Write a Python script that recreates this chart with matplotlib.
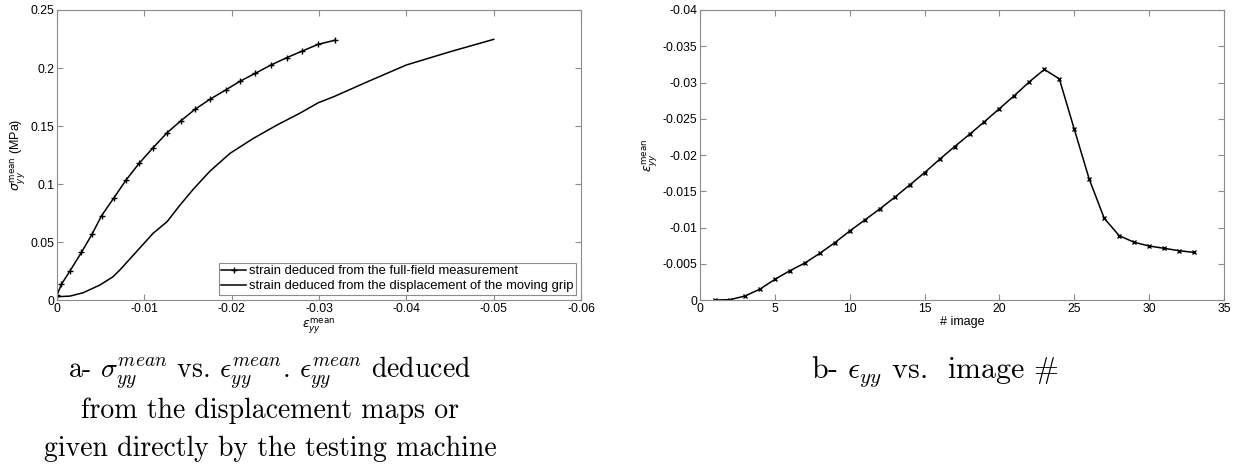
import numpy as np
import matplotlib
matplotlib.use('Agg')
import matplotlib.pyplot as plt

plt.rcParams['font.family'] = ['Liberation Sans', 'DejaVu Sans']
plt.rcParams['mathtext.fontset'] = 'dejavusans'

# ---- data ----
# a- full-field strain (markers)
eps_field = [0.0, -0.0005, -0.0015, -0.0028, -0.0040, -0.0051, -0.0065, -0.0079,
             -0.0094, -0.0110, -0.0126, -0.0142, -0.0158, -0.0175, -0.0193, -0.0210,
             -0.0227, -0.0245, -0.0263, -0.0281, -0.0299, -0.0318]
sig_field = [0.0043, 0.0135, 0.0253, 0.0411, 0.0566, 0.0727, 0.0879, 0.1034,
             0.1178, 0.1313, 0.1442, 0.1546, 0.1644, 0.1730, 0.1810, 0.1888,
             0.1954, 0.2026, 0.2089, 0.2147, 0.2204, 0.2239]
# a- strain from grip displacement (plain line)
eps_grip = [0.0, -0.0015, -0.0030, -0.0049, -0.0064, -0.0072, -0.0091, -0.0110,
            -0.0126, -0.0141, -0.0156, -0.0175, -0.0198, -0.0225, -0.0252, -0.0278,
            -0.0299, -0.0317, -0.0355, -0.0400, -0.0450, -0.0500]
sig_grip = [0.0028, 0.0034, 0.0063, 0.0129, 0.0200, 0.0259, 0.0417, 0.0575,
            0.0675, 0.0820, 0.0955, 0.1110, 0.1264, 0.1394, 0.1509, 0.1610,
            0.1700, 0.1753, 0.1880, 0.2026, 0.2140, 0.2247]

# b- mean strain per image
image_no = list(range(1, 34))
eps_img = [0.0, -0.00005, -0.00055, -0.0015, -0.00285, -0.00404, -0.0051, -0.00644,
           -0.0079, -0.00952, -0.01103, -0.01255, -0.01416, -0.01586, -0.01757,
           -0.0194, -0.02115, -0.02285, -0.0246, -0.0264, -0.0282, -0.0301, -0.0318,
           -0.0305, -0.02355, -0.01665, -0.01127, -0.00887, -0.00796, -0.00745,
           -0.00713, -0.0068, -0.00657]

xticks_a = [0, -0.01, -0.02, -0.03, -0.04, -0.05, -0.06]
xlabels_a = ['0', '-0.01', '-0.02', '-0.03', '-0.04', '-0.05', '-0.06']
yticks_a = [0, 0.05, 0.1, 0.15, 0.2, 0.25]
ylabels_a = ['0', '0.05', '0.1', '0.15', '0.2', '0.25']
xticks_b = [0, 5, 10, 15, 20, 25, 30, 35]
yticks_b = [0, -0.005, -0.01, -0.015, -0.02, -0.025, -0.03, -0.035, -0.04]
ylabels_b = ['0', '-0.005', '-0.01', '-0.015', '-0.02', '-0.025', '-0.03', '-0.035', '-0.04']

legend_a = ['strain deduced from the full-field measurement',
            'strain deduced from the displacement of the moving grip']

fig = plt.figure(figsize=(12.37, 4.65), dpi=100)
ax1 = fig.add_axes([0.0461, 0.3548, 0.4236, 0.6237])
ax2 = fig.add_axes([0.5659, 0.3548, 0.4236, 0.6237])

gray = '#8c8c8c'


def matlab_look(ax):
    for s in ax.spines.values():
        s.set_color(gray)
        s.set_linewidth(0.8)
    ax.tick_params(direction='in', length=4, width=0.8, color=gray,
                   labelsize=8.7, top=True, right=True, pad=2)


ax1.plot(eps_field, sig_field, color='black', lw=1.1, marker='+', ms=5, mew=1.0,
         label=legend_a[0])
ax1.plot(eps_grip, sig_grip, color='black', lw=1.1, label=legend_a[1])
ax1.set_xlim(0, -0.06)
ax1.set_ylim(0, 0.25)
ax1.set_xticks(xticks_a, xlabels_a)
ax1.set_yticks(yticks_a, ylabels_a)
matlab_look(ax1)
ax1.set_xlabel(r'$\varepsilon_{yy}^{\mathrm{mean}}$', fontsize=9, labelpad=1)
ax1.set_ylabel(r'$\sigma_{yy}^{\mathrm{mean}}$ (MPa)', fontsize=9, labelpad=2)
leg = ax1.legend(loc='lower right', fontsize=9.4, fancybox=False, framealpha=1,
                 edgecolor=gray, handlelength=1.9, borderaxespad=0.4,
                 borderpad=0.2, labelspacing=0.2, handletextpad=0.2)
leg.get_frame().set_linewidth(0.8)

ax2.plot(image_no, eps_img, color='black', lw=1.1, marker='x', ms=3.5, mew=1.0)
ax2.set_xlim(0, 35)
ax2.set_ylim(0, -0.04)
ax2.set_xticks(xticks_b, [str(t) for t in xticks_b])
ax2.set_yticks(yticks_b, ylabels_b)
matlab_look(ax2)
ax2.set_xlabel('# image', fontsize=9, labelpad=1)
ax2.set_ylabel(r'$\varepsilon_{yy}^{\mathrm{mean}}$', fontsize=9, labelpad=2)

# captions
cap = dict(family=['cmr10', 'DejaVu Serif'], math_fontfamily='cm', fontsize=20,
           ha='center', va='baseline')
fig.text(0.2183, 0.1871,
         r'a- $\sigma_{yy}^{mean}$ vs. $\epsilon_{yy}^{mean}$. $\epsilon_{yy}^{mean}$ deduced', **cap)
fig.text(0.2183, 0.1011, 'from the displacement maps or', **cap)
fig.text(0.2183, 0.0194, 'given directly by the testing machine', **cap)
cap['fontsize'] = 21.5
fig.text(0.7559, 0.1871, r'b- $\epsilon_{yy}$ vs.  image $\#$', **cap)

fig.savefig('out.png', dpi=100)
